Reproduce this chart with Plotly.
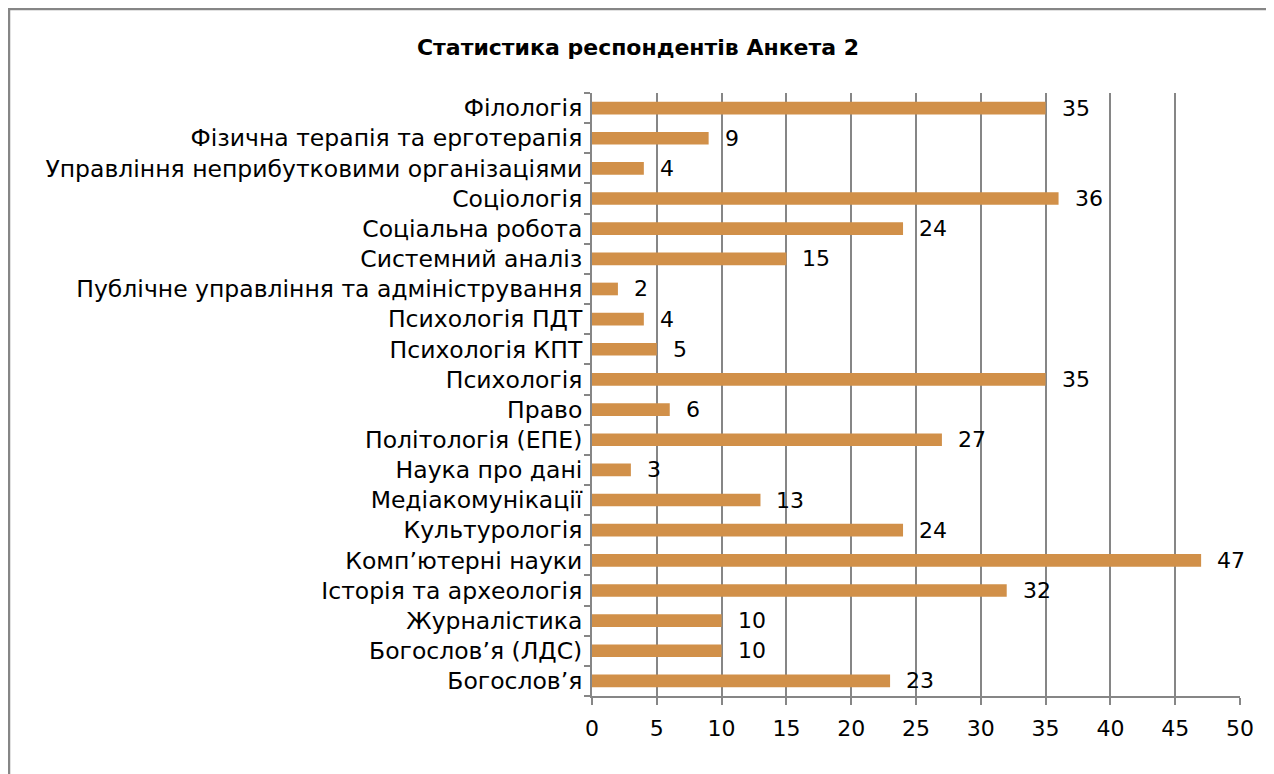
import plotly.graph_objects as go

categories = [
    "Богослов’я", "Богослов’я (ЛДС)", "Журналістика", "Історія та археологія",
    "Комп’ютерні науки", "Культурологія", "Медіакомунікації", "Наука про дані",
    "Політологія (ЕПЕ)", "Право", "Психологія", "Психологія КПТ", "Психологія ПДТ",
    "Публічне управління та адміністрування", "Системний аналіз", "Соціальна робота",
    "Соціологія", "Управління неприбутковими організаціями",
    "Фізична терапія та ерготерапія", "Філологія",
]
values = [23, 10, 10, 32, 47, 24, 13, 3, 27, 6, 35, 5, 4, 2, 15, 24, 36, 4, 9, 35]
x_ticks = [0, 5, 10, 15, 20, 25, 30, 35, 40, 45, 50]

# page has an 8px body margin; work in figure pixel coordinates
W, H = 1266, 766
L, R, T, B = 584, 34, 85, 78
pw, ph = W - L - R, H - T - B

def px_x(p):
    return (p - L) / pw

def px_y(p):
    return 1 - (p - T) / ph

FONT = "DejaVu Sans, Verdana, sans-serif"
FS = 22
FS_CAT = 23.5
GRID = "#868686"

fig = go.Figure(go.Bar(
    x=values, y=categories, orientation="h",
    marker=dict(color="#D19049", line=dict(width=0)),
    width=0.42,
))

annotations = []
for c, v in zip(categories, values):
    annotations.append(dict(
        x=v, y=c, xref="x", yref="y", text=str(v), showarrow=False,
        xanchor="left", yanchor="middle", xshift=14,
        font=dict(family=FONT, size=FS, color="#000000"),
    ))
annotations.append(dict(
    x=px_x(1216), y=px_y(2), xref="paper", yref="paper", text="24.05.2019",
    showarrow=False, xanchor="left", yanchor="bottom",
    font=dict(family=FONT, size=FS, color="#000000"),
))

fig.update_layout(
    width=W, height=H,
    margin=dict(l=L, r=R, t=T, b=B, pad=0),
    paper_bgcolor="white", plot_bgcolor="white",
    showlegend=False,
    title=dict(text="<b>Статистика респондентів Анкета 2</b>", x=630 / W, xanchor="center",
               y=1 - 39 / H, yanchor="middle",
               font=dict(family=FONT, size=FS, color="#000000")),
    font=dict(family=FONT, size=FS, color="#000000"),
    xaxis=dict(range=[0, 50], tickvals=x_ticks, showgrid=True, gridcolor=GRID, gridwidth=2,
               zeroline=False, showline=True, linecolor=GRID, linewidth=2,
               ticks="outside", ticklen=7, tickwidth=2, tickcolor=GRID,
               ticklabelstandoff=5,
               tickfont=dict(family=FONT, size=FS, color="#000000"), fixedrange=True),
    yaxis=dict(categoryorder="array", categoryarray=categories, tickson="boundaries",
               ticks="outside", ticklen=6, tickwidth=2, tickcolor=GRID,
               ticklabelstandoff=3,
               showline=True, linecolor=GRID, linewidth=2, showgrid=False,
               tickfont=dict(family=FONT, size=FS_CAT, color="#000000"),
               range=[-0.5, len(categories) - 0.5]),
    annotations=annotations,
    shapes=[dict(type="rect", xref="paper", yref="paper",
                 x0=px_x(1), x1=px_x(1290), y0=px_y(1), y1=px_y(790),
                 line=dict(color=GRID, width=2.5), fillcolor="rgba(0,0,0,0)", layer="below")],
)

fig.write_html("out.html")
